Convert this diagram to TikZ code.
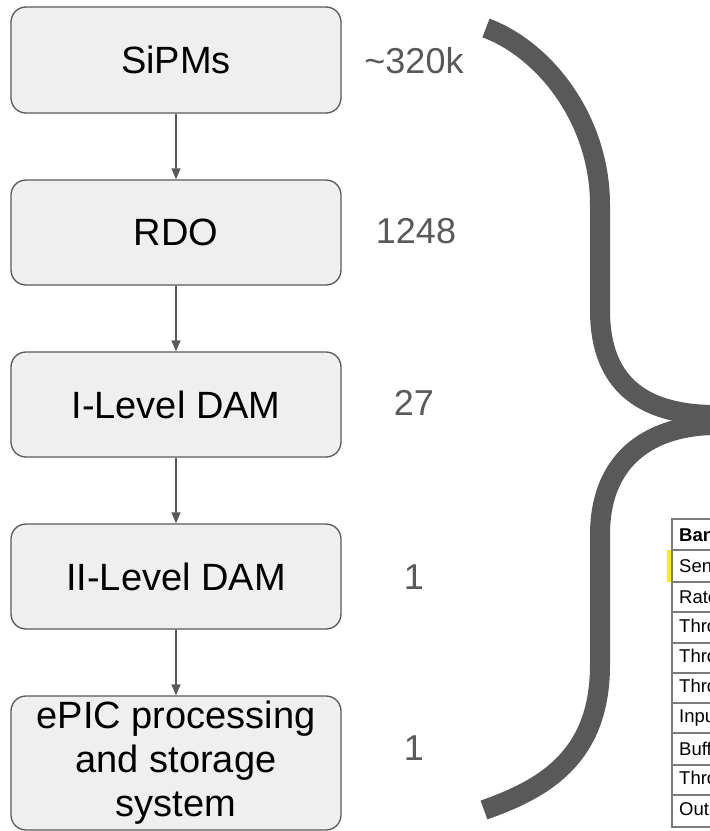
\documentclass[tikz,border=0pt]{standalone}
\usepackage{fontspec}
\setmainfont{Liberation Sans}
\usetikzlibrary{arrows.meta}
\definecolor{edgegray}{HTML}{595959}
\definecolor{boxfill}{HTML}{EFEFEF}
\definecolor{tline}{HTML}{7A7A7A}
\definecolor{hl}{HTML}{FFEE00}
\begin{document}
\begin{tikzpicture}[x=1pt,y=-1pt,
  stage/.style={draw=edgegray, fill=boxfill, line width=1.3pt, rounded corners=15pt,
    minimum width=330pt, align=center, font=\fontsize{38}{44}\selectfont, inner sep=0pt},
  count/.style={text=edgegray, font=\fontsize{36}{40}\selectfont, inner sep=0pt},
  flow/.style={draw=edgegray, line width=1.3pt, -{Triangle[width=9pt,length=11pt]}},
  bracestroke/.style={draw=edgegray, line width=20pt},
  cell/.style={anchor=west, font=\fontsize{18.5}{21}\selectfont, inner sep=0pt},
  tablerule/.style={draw=tline, line width=1.2pt}]
\useasboundingbox (0,0) rectangle (710,831);

% stages
\node[stage, minimum height=106pt] (s1) at (176,60) {SiPMs};
\node[stage, minimum height=105pt] (s2) at (176,232.5) {RDO};
\node[stage, minimum height=105pt] (s3) at (176,404.5) {I-Level DAM};
\node[stage, minimum height=105pt] (s4) at (176,576.5) {II-Level DAM};
\node[stage, minimum height=134pt] (s5) at (176,763) {ePIC processing\\and storage\\system};

\draw[flow] (s1) -- (s2);
\draw[flow] (s2) -- (s3);
\draw[flow] (s3) -- (s4);
\draw[flow] (s4) -- (s5);

% counts
\node[count] (n1) at (414,61) {\textasciitilde320k};
\node[count] (n2) at (416,231) {1248};
\node[count] (n3) at (414,403) {27};
\node[count] (n4) at (414,577) {1};
\node[count] (n5) at (414,748) {1};

% brace
\draw[bracestroke] (486,28) .. controls (545,50) and (600,120) .. (600,205)
  -- (600,310) .. controls (600,390) and (650,415) .. (716,415);
\draw[bracestroke] (716,425) .. controls (655,425) and (600,455) .. (600,535)
  -- (600,665) .. controls (600,760) and (540,790) .. (484,810);

% table fragment (cut by the picture's right edge, as in the reference)
\begin{scope}
\clip (660,500) rectangle (710,831);
\fill[hl] (667,550) rectangle (672,582);
\foreach \yy in {519,550,582,612,643,673,703,733,765,795,827}
  \draw[tablerule] (671.4,\yy) -- (720,\yy);
\draw[tablerule] (672,519) -- (672,827);
\node[cell, font=\fontsize{18.5}{21}\selectfont\bfseries] (t0) at (679,534.5) {Bandwidth};
\node[cell] (t1) at (679,566) {Sensor};
\node[cell] (t2) at (679,597) {Rate};
\node[cell] (t3) at (679,627.5) {Throughput};
\node[cell] (t4) at (679,658) {Throughput};
\node[cell] (t5) at (679,688) {Throughput};
\node[cell] (t6) at (679,718) {Input};
\node[cell] (t7) at (679,749) {Buffer};
\node[cell] (t8) at (679,780) {Throughput};
\node[cell] (t9) at (679,811) {Output};
\end{scope}
\end{tikzpicture}
\end{document}
